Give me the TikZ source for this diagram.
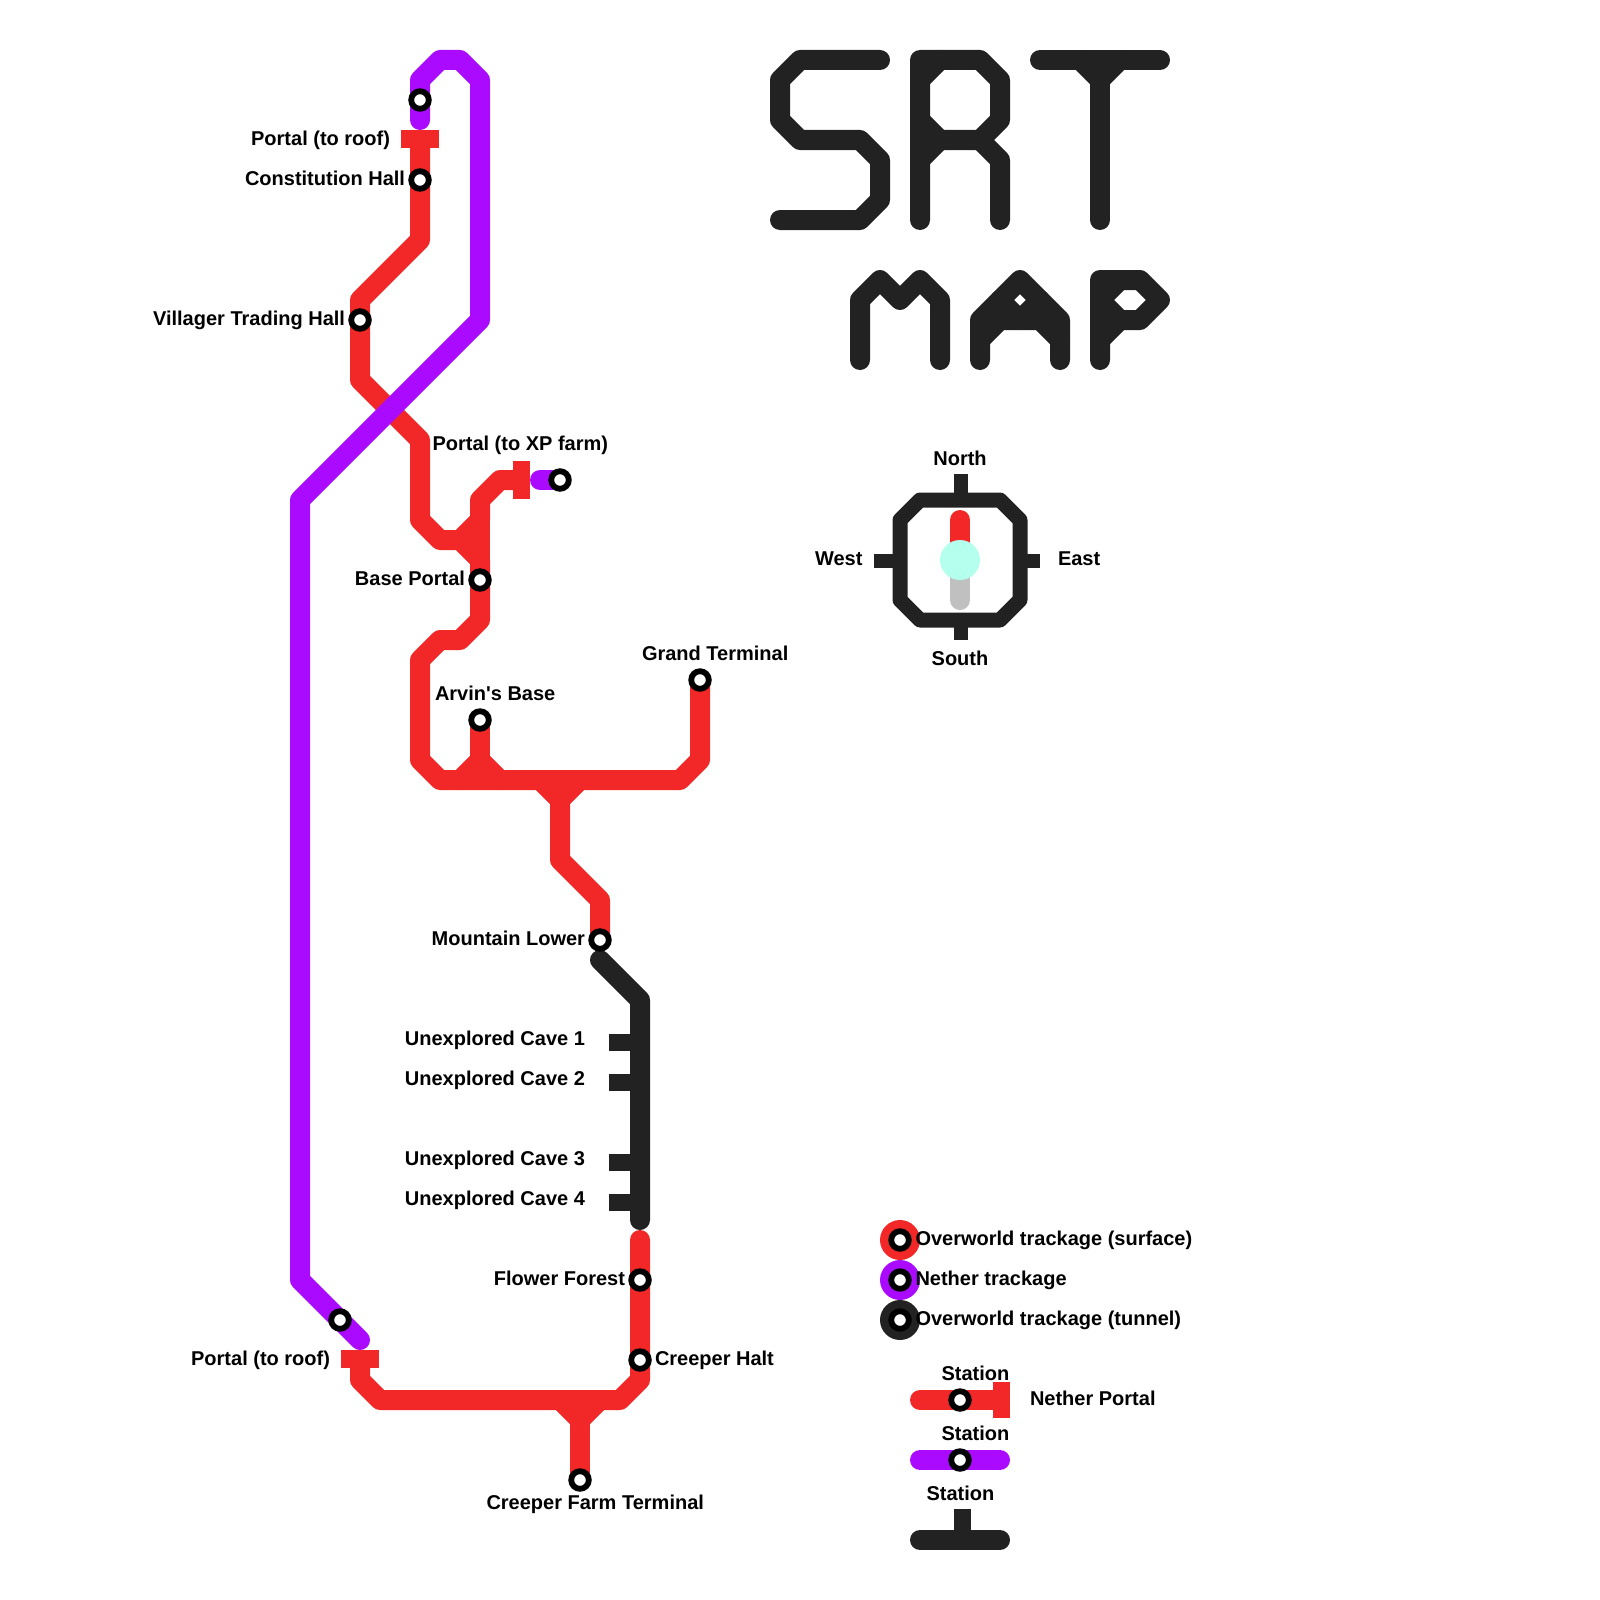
\documentclass[tikz,border=0pt]{standalone}
\usepackage{fontspec}
\setmainfont{Liberation Sans}[Ligatures=TeXOff]
\definecolor{srtred}{HTML}{F22727}
\definecolor{srtpurple}{HTML}{AA0AFF}
\definecolor{srtblack}{HTML}{222222}
\definecolor{srtmint}{HTML}{B4FFEE}
\definecolor{srtgray}{HTML}{C0C0C0}
\tikzset{
  track/.style={line width=20pt,line cap=round,line join=round},
  red track/.style={track,draw=srtred},
  purple track/.style={track,draw=srtpurple},
  black track/.style={track,draw=srtblack},
  stn/.style={circle,draw=black,fill=white,line width=5.8pt,minimum size=17.6pt,inner sep=0pt},
  lbl/.style={font=\bfseries\fontsize{20}{24}\selectfont,text=black,inner sep=0pt,outer sep=0pt},
  rlbl/.style={lbl,anchor=base east},
  llbl/.style={lbl,anchor=base west},
  clbl/.style={lbl,anchor=base},
  legenddot/.style={circle,inner sep=0pt,minimum size=40pt},
}
\begin{document}
\begin{tikzpicture}[x=1pt,y=-1pt]
\useasboundingbox (0,0) rectangle (1600,1600);
\fill[white] (0,0) rectangle (1600,1600);

% station places
\coordinate (pNetherTop) at (420,100);
\coordinate (pConst) at (420,180);
\coordinate (pVillager) at (360,320);
\coordinate (pBase) at (480,580);
\coordinate (pXP) at (560,480);
\coordinate (pArvin) at (480,720);
\coordinate (pGrand) at (700,680);
\coordinate (pMountain) at (600,940);
\coordinate (pFlower) at (640,1280);
\coordinate (pCreeper) at (640,1360);
\coordinate (pNetherLow) at (340,1320);
\coordinate (pFarm) at (580,1480);
\coordinate (pLegRed) at (960,1400);
\coordinate (pLegPurple) at (960,1460);

% red trackage
\draw[red track] (420,140) -- (pConst) -- (420,240) -- (360,300) -- (pVillager) -- (360,380) -- (420,440) -- (420,520) -- (440,540) -- (460,540) -- (480,560) -- (pBase) -- (480,620) -- (460,640) -- (440,640) -- (420,660) -- (420,760) -- (440,780) -- (680,780) -- (700,760) -- (pGrand);
\draw[red track] (460,540) -- (480,520) -- (480,500) -- (500,480) -- (520,480);
\draw[red track] (480,520) -- (480,560);
\draw[red track] (pArvin) -- (480,760);
\draw[red track] (460,780) -- (480,760) -- (500,780);
\draw[red track] (540,780) -- (560,800) -- (580,780);
\draw[red track] (560,800) -- (560,860) -- (600,900) -- (pMountain);
\draw[red track] (360,1360) -- (360,1380) -- (380,1400) -- (620,1400) -- (640,1380) -- (pCreeper) -- (pFlower) -- (640,1240);
\draw[red track] (560,1400) -- (580,1420) -- (600,1400);
\draw[red track] (580,1420) -- (pFarm);
% portal bars
\fill[srtred] (401.3,130) rectangle (438.7,147.5);
\fill[srtred] (513.3,461.3) rectangle (530,498.7);
\fill[srtred] (341.3,1350) rectangle (378.7,1367.5);

% purple trackage
\draw[purple track] (420,120) -- (pNetherTop) -- (420,80) -- (440,60) -- (460,60) -- (480,80) -- (480,320) -- (300,500) -- (300,1280) -- (pNetherLow) -- (360,1340);
\draw[purple track] (540,480) -- (pXP);

% tunnel
\draw[black track] (600,960) -- (640,1000) -- (640,1220);
\fill[srtblack] (609,1033.7) rectangle (632,1050.7);
\fill[srtblack] (609,1073.7) rectangle (632,1090.7);
\fill[srtblack] (609,1153.7) rectangle (632,1170.7);
\fill[srtblack] (609,1193.7) rectangle (632,1210.7);

% title SRT
\draw[black track] (880,60) -- (800,60) -- (780,80) -- (780,120) -- (800,140) -- (860,140) -- (880,160) -- (880,200) -- (860,220) -- (780,220);
\draw[black track] (920,220) -- (920,60) -- (980,60) -- (1000,80) -- (1000,120) -- (980,140) -- (920,140);
\draw[black track] (920,80) -- (940,60);
\draw[black track] (920,120) -- (940,140) -- (920,160);
\draw[black track] (980,140) -- (1000,160) -- (1000,220);
\draw[black track] (1040,60) -- (1160,60);
\draw[black track] (1080,60) -- (1100,80) -- (1120,60);
\draw[black track] (1100,80) -- (1100,220);
% title MAP
\draw[black track] (860,360) -- (860,300) -- (880,280) -- (900,300) -- (920,280) -- (940,300) -- (940,360);
\draw[black track] (980,360) -- (980,320) -- (1020,280) -- (1060,320) -- (1060,360);
\draw[black track] (980,340) -- (1000,320) -- (1040,320) -- (1060,340);
\draw[black track] (1000,300) -- (1020,320) -- (1040,300);
\draw[black track] (1100,360) -- (1100,280) -- (1140,280) -- (1160,300) -- (1140,320) -- (1120,320);
\draw[black track] (1100,300) -- (1120,280);
\draw[black track] (1100,300) -- (1120,320) -- (1100,340);

% compass
\fill[srtblack] (954,474) rectangle (968.3,495);
\fill[srtblack] (954,625) rectangle (968.3,639.5);
\fill[srtblack] (874,554) rectangle (895,568.3);
\fill[srtblack] (1025,554) rectangle (1039.5,568.3);
\draw[srtblack,line width=15pt,line join=round] (920,500) -- (1000,500) -- (1020,520) -- (1020,600) -- (1000,620) -- (920,620) -- (900,600) -- (900,520) -- cycle;
\draw[track,draw=srtred] (960,520) -- (960,560);
\draw[track,draw=srtgray] (960,560) -- (960,600);
\fill[srtmint] (960,560) circle[radius=20];

% legend dots
\node[legenddot,fill=srtred] (legA) at (900,1240) {};
\node[legenddot,fill=srtpurple] (legB) at (900,1280) {};
\node[legenddot,fill=srtblack] (legC) at (900,1320) {};
% legend lines
\draw[red track] (920,1400) -- (pLegRed) -- (1000,1400);
\fill[srtred] (993.3,1381.7) rectangle (1010,1418.3);
\draw[purple track] (920,1460) -- (pLegPurple) -- (1000,1460);
\draw[black track] (920,1540) -- (1000,1540);
\fill[srtblack] (954,1509) rectangle (971,1535);

% stations
\foreach \p/\n in {pNetherTop/s1,pConst/s2,pVillager/s3,pBase/s4,pXP/s5,pArvin/s6,pGrand/s7,pMountain/s8,pFlower/s9,pCreeper/s10,pNetherLow/s11,pFarm/s12,pLegRed/s13,pLegPurple/s14}
  \node[stn] (\n) at (\p) {};
\node[stn] (legAs) at (legA) {};
\node[stn] (legBs) at (legB) {};
\node[stn] (legCs) at (legC) {};

% labels
\node[rlbl] (t1) at (390,145.3) {Portal (to roof)};
\node[rlbl] (t2) at (405,185.3) {Constitution Hall};
\node[rlbl] (t3) at (345,325.3) {Villager Trading Hall};
\node[llbl] (t4) at (432.5,450) {Portal (to XP farm)};
\node[rlbl] (t5) at (465,585.3) {Base Portal};
\node[llbl] (t6) at (642,660) {Grand Terminal};
\node[llbl] (t7) at (435,700.3) {Arvin's Base};
\node[rlbl] (t8) at (585,945.3) {Mountain Lower};
\node[rlbl] (t9) at (585,1045.3) {Unexplored Cave 1};
\node[rlbl] (t10) at (585,1085.3) {Unexplored Cave 2};
\node[rlbl] (t11) at (585,1165.3) {Unexplored Cave 3};
\node[rlbl] (t12) at (585,1205.3) {Unexplored Cave 4};
\node[rlbl] (t13) at (625,1285.3) {Flower Forest};
\node[llbl] (t14) at (655,1365.3) {Creeper Halt};
\node[rlbl] (t15) at (330,1365.3) {Portal (to roof)};
\node[llbl] (t16) at (486.5,1509.7) {Creeper Farm Terminal};
\node[clbl] (t17) at (960,465.3) {North};
\node[clbl] (t18) at (960,665.3) {South};
\node[rlbl] (t19) at (862.5,565.3) {West};
\node[llbl] (t20) at (1058,565.3) {East};
\node[llbl] (t21) at (915.5,1245.3) {Overworld trackage (surface)};
\node[llbl] (t22) at (915.5,1285.3) {Nether trackage};
\node[llbl] (t23) at (915.5,1325.3) {Overworld trackage (tunnel)};
\node[llbl] (t24) at (941.5,1380) {Station};
\node[llbl] (t25) at (941.5,1440.3) {Station};
\node[llbl] (t26) at (926.5,1500.3) {Station};
\node[llbl] (t27) at (1030,1405.3) {Nether Portal};
\end{tikzpicture}
\end{document}
